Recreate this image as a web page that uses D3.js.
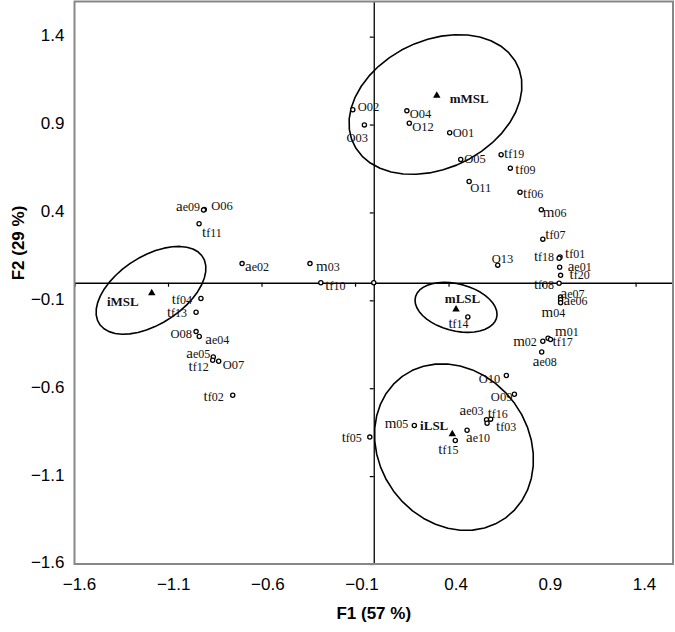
<!DOCTYPE html>
<html>
<head>
<meta charset="utf-8">
<script src="https://cdn.jsdelivr.net/npm/d3@7"></script>
<style>
  html, body { margin: 0; padding: 0; background: #fff; }
  svg { display: block; }
</style>
</head>
<body>
<svg id="chart" width="675" height="632"></svg>
<script>
// ---------------- DATA ----------------
const pointLabels = ["O02","O03","O04","O12","O01","O05","tf19","tf09","O11","tf06",
  "m06","tf07","tf01","tf18","ae01","tf20","O13","tf08","ae07","ae06",
  "m04","tf14","m01","tf17","m02","ae08","O10","O09","ae03","tf16",
  "tf03","ae10","tf15","m05","tf05","O06","ae09","tf11","ae02","m03",
  "tf10","","tf04","tf13","O08","ae04","ae05","tf12","O07","tf02"];
const pointX = [-0.112,-0.050,0.177,0.190,0.406,0.465,0.681,0.730,0.510,0.782,
  0.896,0.904,0.996,0.991,0.994,0.999,0.663,0.991,0.999,0.999,
  0.999,0.503,0.932,0.945,0.904,0.898,0.709,0.752,0.603,0.625,
  0.606,0.499,0.436,0.217,-0.021,-0.906,-0.910,-0.934,-0.704,-0.341,
  -0.283,0.000,-0.924,-0.950,-0.950,-0.933,-0.858,-0.861,-0.829,-0.754];
const pointY = [0.984,0.898,0.978,0.907,0.853,0.701,0.728,0.652,0.576,0.515,
  0.415,0.248,0.147,0.139,0.088,0.042,0.100,-0.003,-0.081,-0.097,
  -0.114,-0.195,-0.316,-0.323,-0.333,-0.394,-0.528,-0.634,-0.779,-0.776,
  -0.799,-0.839,-0.897,-0.812,-0.878,0.417,0.414,0.336,0.109,0.109,
  0.000,0.000,-0.090,-0.168,-0.278,-0.306,-0.422,-0.441,-0.447,-0.640];

const groupLabels = ["mMSL","iMSL","mLSL","iLSL"];
const groupX = [0.337,-1.187,0.440,0.420];
const groupY = [1.065,-0.059,-0.151,-0.861];

// ellipses (data units): centre, semi-axes, rotation (deg)
const ellipseCX = [0.330,-1.191,0.440,0.429];
const ellipseCY = [1.014,-0.043,-0.140,-0.935];
const ellipseA  = [0.493,0.336,0.225,0.490];
const ellipseB  = [0.359,0.189,0.133,0.4065];
const ellipseAngle = [30.4,36,-16.1,-63];

const xTicks = [-1.6,-1.1,-0.6,-0.1,0.4,0.9,1.4];
const yTicks = [-1.6,-1.1,-0.6,-0.1,0.4,0.9,1.4];
const xTitle = "F1 (57 %)";
const yTitle = "F2 (29 %)";

// ---------------- LAYOUT (label placement, px) ----------------
const labelDx = [5,-18,3,3,3,3.5,3,5,1,3, 1.5,2.5,5,-5,8,9,-6,-5,0,3,
  -19,-19.4,7,2,-6,-9,-6,-2,-3,-3, 9,-1,-17,-6,-8,7,-3.5,3,3,6,
  4.5,0,-9,-9,-4,6,-3,-4,4,-9];
const labelDy = [1,17,7.5,7.5,4,3,3,6,10,6, 7,0,1.5,3,3.5,4,-2,5.5,1,5,
  14,11,-2,6,5,13.5,7,6.5,-5,-1, 7.5,12,14,2.5,5,0.5,1,13,7,7,
  7,0,5.5,5,6.5,7,1,10.5,7.5,6];
const labelAnchor = ["start","start","start","start","start","start","start","start","start","start",
  "start","start","start","end","start","start","start","end","start","start",
  "start","start","start","start","end","start","end","end","end","start",
  "start","start","start","end","end","start","end","start","start","start",
  "start","start","end","end","end","start","end","end","start","end"];
const groupDx = [13,-13,6.5,-4];
const groupDy = [7,12.5,-6,-4];
const groupAnchor = ["start","end","middle","end"];

// ---------------- CHART ----------------
const svg = d3.select("#chart");
const L = 74.5, R = 673, T = 1.5, B = 564;

const x = d3.scaleLinear().domain([-1.6, 1.6]).range([L, R]);
const y = d3.scaleLinear().domain([-1.6, 1.6]).range([B, T]);
const xLab = d3.scaleLinear().domain([-1.6, 1.4]).range([79, 644]);

svg.append("rect").attr("width", 675).attr("height", 632).attr("fill", "#fff");

// axis lines through origin
const gx = svg.append("g").attr("transform", `translate(0,${y(0)})`)
  .call(d3.axisBottom(x).tickValues(xTicks).tickSize(4).tickSizeOuter(0).tickFormat(""));
gx.select(".domain").attr("stroke", "#000").attr("stroke-width", 1.3);
gx.selectAll(".tick line").attr("stroke", "#000").attr("stroke-width", 1.2);

const gy = svg.append("g").attr("transform", `translate(${x(0)},0)`)
  .call(d3.axisLeft(y).tickValues(yTicks).tickSize(4).tickSizeOuter(0).tickFormat(""));
gy.select(".domain").attr("stroke", "#000").attr("stroke-width", 1.3);
gy.selectAll(".tick line").attr("stroke", "#000").attr("stroke-width", 1.2);

// frame
svg.append("rect").attr("x", L).attr("y", T).attr("width", R - L).attr("height", B - T)
  .attr("fill", "none").attr("stroke", "#878787").attr("stroke-width", 2);

// tick labels
const fmt = d3.format(".1f");
const bx = svg.append("g").attr("transform", `translate(0,${B})`)
  .call(d3.axisBottom(xLab).tickValues(xTicks).tickSize(0).tickPadding(14).tickFormat(fmt));
bx.select(".domain").remove();
bx.selectAll("text").attr("font-family", "Liberation Sans, Arial, sans-serif")
  .attr("font-size", 17).attr("fill", "#000");

const ly = svg.append("g").attr("transform", `translate(64.5,-1.5)`)
  .call(d3.axisLeft(y).tickValues(yTicks).tickSize(0).tickPadding(0).tickFormat(fmt));
ly.select(".domain").remove();
ly.selectAll("text").attr("font-family", "Liberation Sans, Arial, sans-serif")
  .attr("font-size", 17).attr("fill", "#000");

// axis titles
svg.append("text").attr("x", (L + R) / 2).attr("y", 619).attr("text-anchor", "middle")
  .attr("font-family", "Liberation Sans, Arial, sans-serif").attr("font-size", 17)
  .attr("font-weight", "bold").text(xTitle);
svg.append("text").attr("transform", `translate(24,243) rotate(-90)`)
  .attr("text-anchor", "middle")
  .attr("font-family", "Liberation Sans, Arial, sans-serif").attr("font-size", 17)
  .attr("font-weight", "bold").text(yTitle);

// ellipses
const line = d3.line().x(d => x(d[0])).y(d => y(d[1]));
ellipseCX.forEach((cx, i) => {
  const th = ellipseAngle[i] * Math.PI / 180, a = ellipseA[i], b = ellipseB[i], cy = ellipseCY[i];
  const pts = d3.range(0, 41).map(k => {
    const t = k / 40 * 2 * Math.PI;
    return [cx + a * Math.cos(t) * Math.cos(th) - b * Math.sin(t) * Math.sin(th),
            cy + a * Math.cos(t) * Math.sin(th) + b * Math.sin(t) * Math.cos(th)];
  });
  svg.append("path").attr("d", line(pts)).attr("fill", "none")
    .attr("stroke", "#000").attr("stroke-width", 1.6).attr("stroke-linejoin", "round");
});

// points
const pts = pointLabels.map((l, i) => ({ l, x: pointX[i], y: pointY[i], i }));
svg.append("g").selectAll("circle").data(pts).join("circle")
  .attr("cx", d => x(d.x)).attr("cy", d => y(d.y)).attr("r", 2.1)
  .attr("fill", "#fff").attr("stroke", "#000").attr("stroke-width", 1.3);

const lab = svg.append("g").attr("font-family", "Liberation Serif, Times New Roman, serif")
  .attr("fill", "#111");
pts.forEach(d => {
  if (!d.l) return;
  const t = lab.append("text")
    .attr("x", x(d.x) + labelDx[d.i]).attr("y", y(d.y) + labelDy[d.i])
    .attr("text-anchor", labelAnchor[d.i]);
  if (d.l[0] === "O") {
    t.attr("font-size", 12.5).text(d.l);
  } else {
    t.append("tspan").attr("font-size", 15).text(d.l[0]);
    t.append("tspan").attr("font-size", 12).text(d.l.slice(1));
  }
});

// group centroids
svg.append("g").selectAll("path").data(groupLabels).join("path")
  .attr("transform", (d, i) => `translate(${x(groupX[i])},${y(groupY[i])})`)
  .attr("d", d3.symbol().type(d3.symbolTriangle).size(24)).attr("fill", "#000");
svg.append("g").selectAll("text").data(groupLabels).join("text")
  .attr("x", (d, i) => x(groupX[i]) + groupDx[i]).attr("y", (d, i) => y(groupY[i]) + groupDy[i])
  .attr("text-anchor", (d, i) => groupAnchor[i])
  .attr("font-family", "Liberation Serif, Times New Roman, serif").attr("font-size", 13)
  .attr("font-weight", "bold").attr("fill", "#111").text(d => d);
</script>
</body>
</html>
